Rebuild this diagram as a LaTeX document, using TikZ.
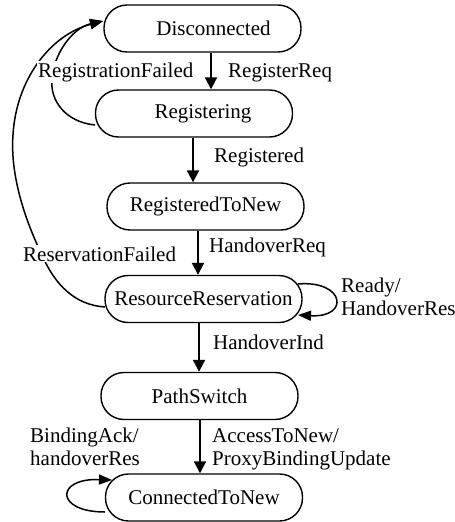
\documentclass[tikz,border=0pt]{standalone}
\usepackage{fontspec}
\setmainfont{Liberation Serif}
\usetikzlibrary{arrows.meta}
\tikzset{
  state/.style={draw, line width=1.4pt, rounded corners=23pt, minimum width=197pt, minimum height=47pt, inner sep=0pt, font=\fontsize{21}{23}\selectfont},
  lbl/.style={anchor=base west, inner sep=1pt, font=\fontsize{21}{23}\selectfont},
  mask/.style={fill=white},
  varr/.style={line width=2pt, -{Triangle[length=12pt,width=12pt]}},
  carr/.style={line width=1.5pt, -{Triangle[length=13pt,width=10pt]}},
  cline/.style={line width=1.4pt}
}
\begin{document}
\begin{tikzpicture}[x=1pt,y=-1pt]
\useasboundingbox (0,0) rectangle (455,522);
% states
\node[state] (D) at (202.5,28.5) {\hspace*{22pt}Disconnected};
\node[state] (Rg) at (194,113.5) {\hspace*{18pt}Registering};
\node[state] (RTN) at (205.5,206.5) {RegisteredToNew};
\node[state] (RR) at (203.5,299) {ResourceReservation};
\node[state] (PS) at (199.5,396) {PathSwitch};
\node[state] (CTN) at (204,497.5) {ConnectedToNew};
% helper coordinates
\coordinate (xa) at (211,0);
\coordinate (xb) at (193,0);
\coordinate (xc) at (198,0);
\coordinate (xd) at (199,0);
\coordinate (xe) at (200,0);
\coordinate (tipD) at (103,21);
\coordinate (regOut) at (95,125);
\coordinate (resOut) at (105,307);
\coordinate (rrA) at (298,284);
\coordinate (rrB) at (298,315);
\coordinate (ctA) at (105,512);
\coordinate (ctB) at (112,480);
% vertical transitions
\draw[varr] (D.south -| xa) -- (Rg.north -| xa);
\draw[varr] (Rg.south -| xb) -- (RTN.north -| xb);
\draw[varr] (RTN.south -| xc) -- (RR.north -| xc);
\draw[varr] (RR.south -| xd) -- (PS.north -| xd);
\draw[varr] (PS.south -| xe) -- (CTN.north -| xe);
% back transitions
\draw[carr] (regOut) .. controls (65,122) and (50,100) .. (52,80) .. controls (53,55) and (72,28) .. (tipD);
\draw[carr] (resOut) .. controls (75,305) and (55,285) .. (42,255) .. controls (25,220) and (10,175) .. (13,135) .. controls (16,80) and (50,35) .. (tipD);
% self loops
\draw[carr] (rrA) .. controls (345,280) and (350,318) .. (rrB);
\draw[carr] (ctA) .. controls (55,512) and (55,478) .. (ctB);
% labels
\node[lbl] (l1) at (227,77) {RegisterReq};
\node[lbl, mask] (l2) at (37,77) {RegistrationFailed};
\node[lbl] (l3) at (213,162) {Registered};
\node[lbl] (l4) at (208,252) {HandoverReq};
\node[lbl, mask] (l5) at (22,261) {ReservationFailed};
\node[lbl] (l6a) at (340,292) {Ready/};
\node[lbl] (l6b) at (340,315) {HandoverRes};
\node[lbl] (l7) at (212,349) {HandoverInd};
\node[lbl] (l8a) at (29,442) {BindingAck/};
\node[lbl] (l8b) at (29,465) {handoverRes};
\node[lbl] (l9a) at (211,442) {AccessToNew/};
\node[lbl] (l9b) at (211,465) {ProxyBindingUpdate};
\end{tikzpicture}
\end{document}
